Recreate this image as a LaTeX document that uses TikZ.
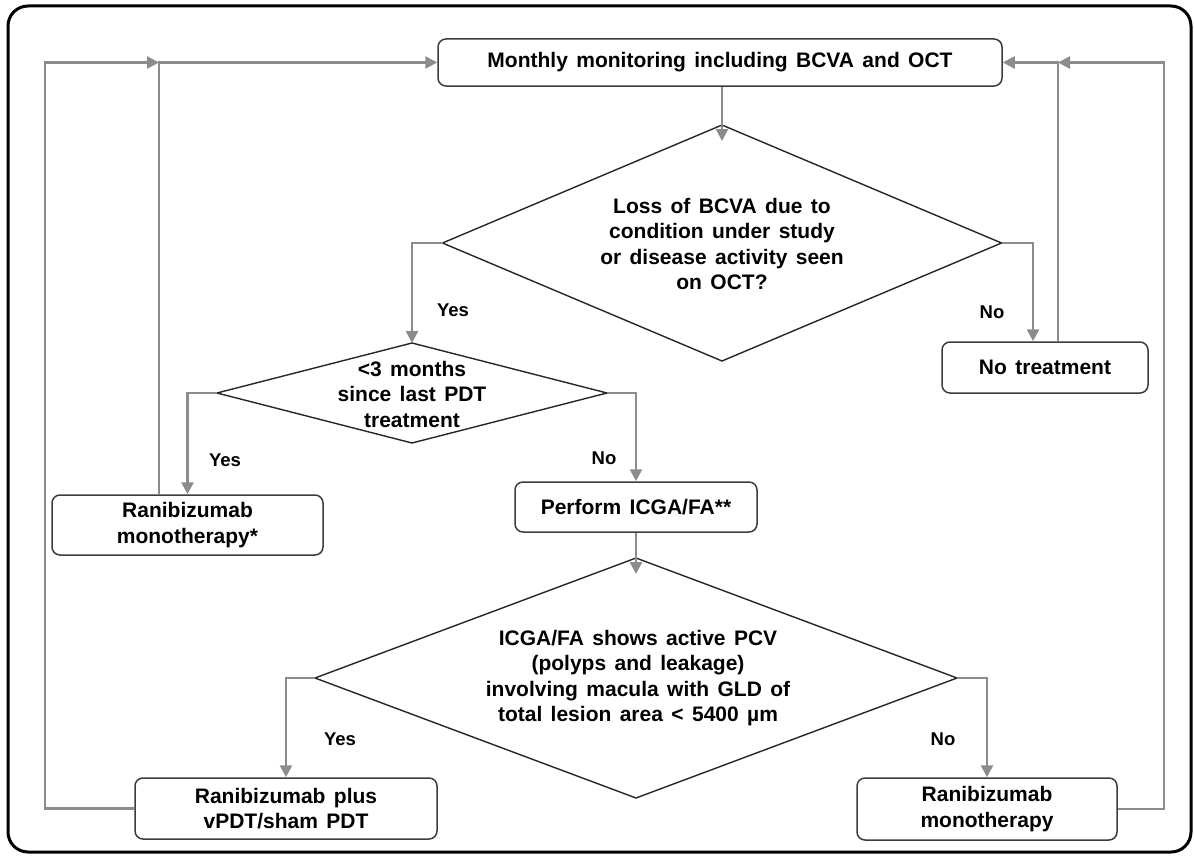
\documentclass[tikz,border=0pt]{standalone}
\usepackage{fontspec}
\setmainfont{Liberation Sans}
\usetikzlibrary{arrows.meta}
\definecolor{conngray}{HTML}{8C8C8C}
\definecolor{boxline}{HTML}{3C3C3C}
\newcommand\flowfont{\fontsize{21}{25.5}\selectfont\bfseries\spaceskip=8.4pt plus 2pt\relax}
\begin{document}
\begin{tikzpicture}[x=1pt,y=-1pt,
  box/.style={draw=boxline, line width=1.5pt, rounded corners=8pt, align=center,
    font=\flowfont, inner sep=0pt},
  dtext/.style={align=center, font=\flowfont, inner sep=0pt},
  dline/.style={draw=black!85, line width=1.4pt, line join=miter},
  connline/.style={draw=conngray, line width=2.6pt},
  arr/.style={connline, -{Triangle[length=12pt,width=12pt]}},
  lbl/.style={font=\fontsize{18.5}{22}\selectfont\bfseries, inner sep=0pt}]
\useasboundingbox (0,0) rectangle (1194,859);
% outer frame
\draw[line width=3pt, rounded corners=20pt] (8,6) rectangle (1191,852);

% boxes
\node[box, minimum width=564pt, minimum height=47pt] (top) at (720,62.5) {Monthly monitoring including BCVA and OCT};
\node[box, minimum width=271pt, minimum height=60pt] (mono1) at (187.5,525) {Ranibizumab\\monotherapy*};
\node[box, minimum width=242pt, minimum height=50pt] (perform) at (636,507) {Perform ICGA/FA**};
\node[box, minimum width=206pt, minimum height=51pt] (notreat) at (1045,367.5) {No treatment};
\node[box, minimum width=302pt, minimum height=61pt] (plus) at (286,808.5) {Ranibizumab plus\\vPDT/sham PDT};
\node[box, minimum width=260pt, minimum height=62pt] (mono2) at (987,809) {Ranibizumab\\monotherapy};

% diamond 1
\coordinate (d1t) at (722,125);
\coordinate (d1b) at (722,361);
\coordinate (d1l) at (442.5,243);
\coordinate (d1r) at (1001.5,243);
\draw[dline] (d1t) -- (d1r) -- (d1b) -- (d1l) -- cycle;
\node[dtext] (d1) at (722,244) {Loss of BCVA due to\\condition under study\\or disease activity seen\\on OCT?};

% diamond 2
\coordinate (d2t) at (412,343);
\coordinate (d2b) at (412,443);
\coordinate (d2l) at (217,393);
\coordinate (d2r) at (607,393);
\draw[dline] (d2t) -- (d2r) -- (d2b) -- (d2l) -- cycle;
\node[dtext] (d2) at (412,394) {<3 months\\since last PDT\\treatment};

% diamond 3
\coordinate (d3t) at (636,558);
\coordinate (d3b) at (636,798);
\coordinate (d3l) at (315,678);
\coordinate (d3r) at (957,678);
\draw[dline] (d3t) -- (d3r) -- (d3b) -- (d3l) -- cycle;
\node[dtext] (d3) at (638,678) {ICGA/FA shows active PCV\\(polyps and leakage)\\involving macula with GLD of\\total lesion area < 5400 µm};

% return junctions
\coordinate (ll) at (45,62.5);
\coordinate (jl) at (159,62.5);
\coordinate (rr) at (1164,62.5);
\coordinate (jr) at (1058,62.5);

% connectors
\draw[arr, shorten >=-16pt] (top.south -| d1t) -- (d1t);
\draw[arr] (d1l) -| (d2t);
\draw[arr] (d1r) -| ([xshift=-12pt]notreat.north);
\draw[arr] (notreat.north -| jr) -- (jr) -- (top.east);
\draw[arr] (mono2.east) -| (rr) -- (jr);
\draw[arr] (d2l) -| (mono1.north);
\draw[arr] (d2r) -| (perform.north);
\draw[arr] (mono1.north -| jl) -- (jl) -- (top.west);
\draw[arr] (plus.west) -| (ll) -- (jl);
\draw[arr, shorten >=-16pt] (perform.south) -- (d3t);
\draw[arr] (d3l) -| (plus.north);
\draw[arr] (d3r) -| (mono2.north);

% labels
\node[lbl] (y1) at (453,310) {Yes};
\node[lbl] (n1) at (992,312) {No};
\node[lbl] (y2) at (225,460) {Yes};
\node[lbl] (n2) at (604,458) {No};
\node[lbl] (y3) at (340,739) {Yes};
\node[lbl] (n3) at (943,739) {No};
\end{tikzpicture}
\end{document}
